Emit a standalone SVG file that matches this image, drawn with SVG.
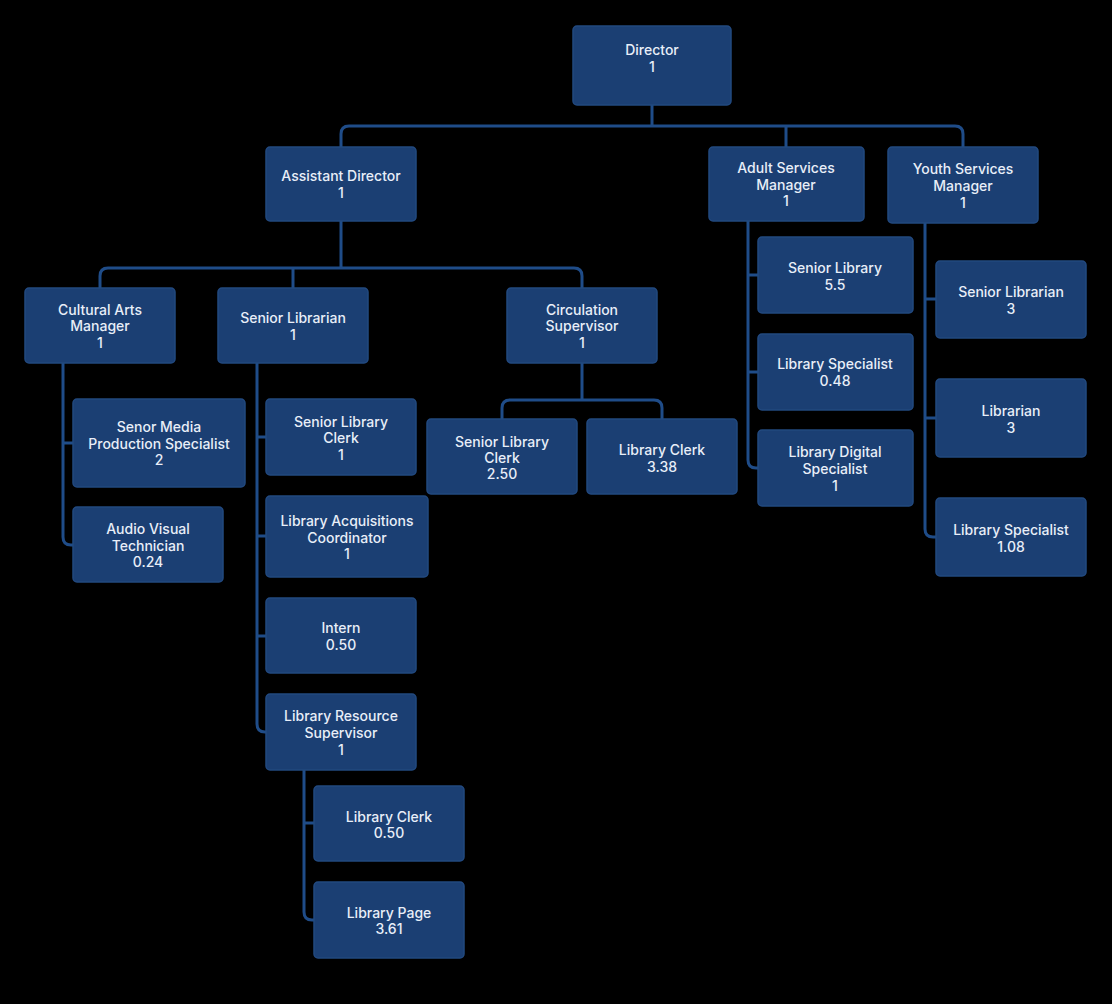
<svg xmlns="http://www.w3.org/2000/svg" width="1112" height="1004" viewBox="0 0 1112 1004">
<style>
.bg{fill:#000}
.box{fill:#1b3f73;stroke:#22497f;stroke-width:1.5}
.t{font-family:Inter,"Open Sans","Liberation Sans",sans-serif;font-size:14px;font-weight:500;fill:#e8eef8;text-anchor:middle;dominant-baseline:central}
.c{fill:none;stroke:#1f4c88;stroke-width:3}
</style>
<rect class="bg" x="0" y="0" width="1112" height="1004"/>
<g id="connectors">
<path class="c" d="M652,105 V126"/>
<path class="c" d="M341,147 V134 Q341,126 349,126 H955 Q963,126 963,134 V147"/>
<path class="c" d="M786,126 V147"/>
<path class="c" d="M341,221 V268"/>
<path class="c" d="M100,288 V276 Q100,268 108,268 H574 Q582,268 582,276 V288"/>
<path class="c" d="M293,268 V288"/>
<path class="c" d="M63,363 V537 Q63,545 71,545 H73"/>
<path class="c" d="M63,443 H73"/>
<path class="c" d="M257,363 V724 Q257,732 265,732 H266"/>
<path class="c" d="M257,437 H266 M257,536 H266 M257,636 H266"/>
<path class="c" d="M304,770 V912 Q304,920 312,920 H314"/>
<path class="c" d="M304,823 H314"/>
<path class="c" d="M582,363 V400"/>
<path class="c" d="M502,419 V408 Q502,400 510,400 H654 Q662,400 662,408 V419"/>
<path class="c" d="M748,221 V460 Q748,468 756,468 H758"/>
<path class="c" d="M748,275 H758 M748,372 H758"/>
<path class="c" d="M925,223 V529 Q925,537 933,537 H936"/>
<path class="c" d="M925,299 H936 M925,418 H936"/>
</g>
<g id="director"><rect class="box" x="573" y="26" width="158" height="79" rx="4"/><text class="t" x="652" y="49">Director</text><text class="t" x="652" y="66">1</text></g>
<g id="assistant-director"><rect class="box" x="266" y="147" width="150" height="74" rx="4"/><text class="t" x="341" y="175">Assistant Director</text><text class="t" x="341" y="192">1</text></g>
<g id="adult-services-manager"><rect class="box" x="709" y="147" width="155" height="74" rx="4"/><text class="t" x="786" y="167">Adult Services</text><text class="t" x="786" y="184">Manager</text><text class="t" x="786" y="200">1</text></g>
<g id="youth-services-manager"><rect class="box" x="888" y="147" width="150" height="76" rx="4"/><text class="t" x="963" y="168">Youth Services</text><text class="t" x="963" y="185">Manager</text><text class="t" x="963" y="202">1</text></g>
<g id="cultural-arts-manager"><rect class="box" x="25" y="288" width="150" height="75" rx="4"/><text class="t" x="100" y="309">Cultural Arts</text><text class="t" x="100" y="325">Manager</text><text class="t" x="100" y="342">1</text></g>
<g id="senior-librarian"><rect class="box" x="218" y="288" width="150" height="75" rx="4"/><text class="t" x="293" y="317">Senior Librarian</text><text class="t" x="293" y="334">1</text></g>
<g id="circulation-supervisor"><rect class="box" x="507" y="288" width="150" height="75" rx="4"/><text class="t" x="582" y="309">Circulation</text><text class="t" x="582" y="325">Supervisor</text><text class="t" x="582" y="342">1</text></g>
<g id="senor-media"><rect class="box" x="73" y="399" width="172" height="88" rx="4"/><text class="t" x="159" y="426">Senor Media</text><text class="t" x="159" y="443">Production Specialist</text><text class="t" x="159" y="459">2</text></g>
<g id="audio-visual"><rect class="box" x="73" y="507" width="150" height="75" rx="4"/><text class="t" x="148" y="528">Audio Visual</text><text class="t" x="148" y="545">Technician</text><text class="t" x="148" y="561">0.24</text></g>
<g id="senior-library-clerk-1"><rect class="box" x="266" y="399" width="150" height="76" rx="4"/><text class="t" x="341" y="421">Senior Library</text><text class="t" x="341" y="437">Clerk</text><text class="t" x="341" y="454">1</text></g>
<g id="library-acquisitions"><rect class="box" x="266" y="496" width="162" height="81" rx="4"/><text class="t" x="347" y="520">Library Acquisitions</text><text class="t" x="347" y="537">Coordinator</text><text class="t" x="347" y="553">1</text></g>
<g id="intern"><rect class="box" x="266" y="598" width="150" height="75" rx="4"/><text class="t" x="341" y="627">Intern</text><text class="t" x="341" y="644">0.50</text></g>
<g id="library-resource-supervisor"><rect class="box" x="266" y="694" width="150" height="76" rx="4"/><text class="t" x="341" y="715">Library Resource</text><text class="t" x="341" y="732">Supervisor</text><text class="t" x="341" y="749">1</text></g>
<g id="library-clerk-050"><rect class="box" x="314" y="786" width="150" height="75" rx="4"/><text class="t" x="389" y="816">Library Clerk</text><text class="t" x="389" y="832">0.50</text></g>
<g id="library-page"><rect class="box" x="314" y="882" width="150" height="76" rx="4"/><text class="t" x="389" y="912">Library Page</text><text class="t" x="389" y="928">3.61</text></g>
<g id="senior-library-clerk-250"><rect class="box" x="427" y="419" width="150" height="75" rx="4"/><text class="t" x="502" y="441">Senior Library</text><text class="t" x="502" y="457">Clerk</text><text class="t" x="502" y="473">2.50</text></g>
<g id="library-clerk-338"><rect class="box" x="587" y="419" width="150" height="75" rx="4"/><text class="t" x="662" y="449">Library Clerk</text><text class="t" x="662" y="466">3.38</text></g>
<g id="senior-library-55"><rect class="box" x="758" y="237" width="155" height="76" rx="4"/><text class="t" x="835" y="267">Senior Library</text><text class="t" x="835" y="284">5.5</text></g>
<g id="library-specialist-048"><rect class="box" x="758" y="334" width="155" height="76" rx="4"/><text class="t" x="835" y="363">Library Specialist</text><text class="t" x="835" y="380">0.48</text></g>
<g id="library-digital-specialist"><rect class="box" x="758" y="430" width="155" height="76" rx="4"/><text class="t" x="835" y="451">Library Digital</text><text class="t" x="835" y="468">Specialist</text><text class="t" x="835" y="485">1</text></g>
<g id="senior-librarian-3"><rect class="box" x="936" y="261" width="150" height="77" rx="4"/><text class="t" x="1011" y="291">Senior Librarian</text><text class="t" x="1011" y="308">3</text></g>
<g id="librarian-3"><rect class="box" x="936" y="379" width="150" height="78" rx="4"/><text class="t" x="1011" y="410">Librarian</text><text class="t" x="1011" y="427">3</text></g>
<g id="library-specialist-108"><rect class="box" x="936" y="498" width="150" height="78" rx="4"/><text class="t" x="1011" y="529">Library Specialist</text><text class="t" x="1011" y="546">1.08</text></g>
</svg>
